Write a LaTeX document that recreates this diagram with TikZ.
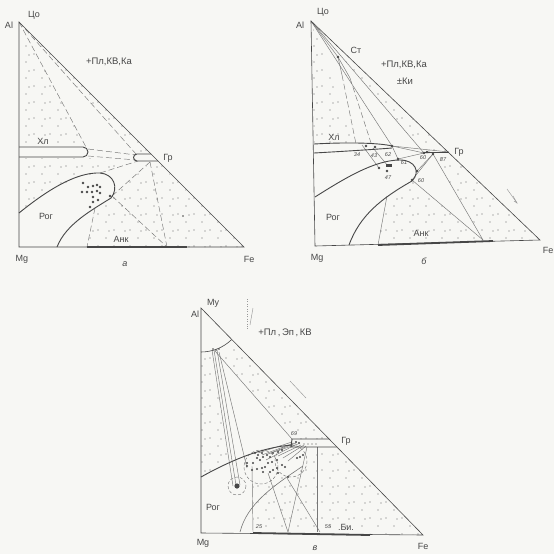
\documentclass[tikz,border=0pt]{standalone}
\usepackage{fontspec}
\setmainfont{Liberation Sans}
\usetikzlibrary{patterns}
\pgfdeclarepatternformonly{stip}{\pgfqpoint{-1pt}{-1pt}}{\pgfqpoint{17pt}{17pt}}{\pgfqpoint{16pt}{16pt}}{%
  \pgfpathcircle{\pgfqpoint{2pt}{4pt}}{0.6pt}%
  \pgfpathcircle{\pgfqpoint{10pt}{12pt}}{0.6pt}%
  \pgfpathcircle{\pgfqpoint{13pt}{3pt}}{0.55pt}%
  \pgfusepath{fill}}
\definecolor{bgc}{HTML}{F7F7F4}
\definecolor{inkc}{HTML}{474747}
\definecolor{thinc}{HTML}{767676}
\tikzset{
  edgeln/.style={draw=inkc, line width=0.6pt},
  boldln/.style={draw=inkc, line width=0.9pt},
  thinln/.style={draw=thinc, line width=0.45pt},
  dsh/.style={draw=thinc, line width=0.45pt, dash pattern=on 6pt off 3pt},
  heavyln/.style={draw=inkc, line width=1.8pt},
  stp/.style={pattern=stip, pattern color=black!60},
  lbl/.style={font=\fontsize{9}{10}\selectfont, text=inkc, inner sep=0pt},
  asstxt/.style={font=\fontsize{9.5}{11}\selectfont, text=inkc, inner sep=0pt},
  num/.style={font=\fontsize{5.5}{6}\selectfont\itshape, text=inkc, inner sep=0pt},
  captxt/.style={font=\fontsize{9}{10}\selectfont\itshape, text=inkc, inner sep=0pt},
  pt/.style={fill=inkc}
}
\begin{document}
\begin{tikzpicture}[x=1pt,y=-1pt]
\useasboundingbox (0,0) rectangle (554,554);
\fill[bgc] (0,0) rectangle (554,554);

% ================= diagram a =================
\coordinate (aAl) at (19,22);
\coordinate (aMg) at (19,247);
\coordinate (aFe) at (244,247);
\coordinate (aXl) at (86,147);
\coordinate (aGr) at (136,154);
\fill[stp] (aAl) -- (aXl) -- (19,147) -- cycle;
\fill[stp] (19,158) -- (90,158) -- (135,162) -- (100,173) -- (60,186) -- (19,213) -- cycle;
\fill[stp] (aAl) -- (aGr) -- (151,154) -- cycle;
\fill[stp] (158,162) -- (aFe) -- (167,247) -- (150,163) -- cycle;
\fill[stp] (112,197) -- (150,163) -- (167,247) -- cycle;
\fill[stp] (95,208) -- (112,197) -- (167,247) -- (87,247) -- cycle;
\draw[dsh] (aAl) -- (aXl);
\draw[dsh] (aAl) -- (aGr);
\draw[dsh] (88,149) -- (136,155);
\draw[dsh] (88,156) -- (136,160);
\draw[dsh] (100,173) -- (138,161);
\draw[dsh] (112,196) -- (150,162);
\draw[dsh] (150,162) -- (167,247);
\draw[dsh] (112,196) -- (167,247);
\draw[dsh] (95,208) -- (87,247);
\draw[edgeln] (aAl) -- (aMg) -- (aFe) -- cycle;
\draw[boldln] (19,147) -- (83,147) arc[start angle=-90,end angle=90,radius=5] -- (19,157);
\draw[boldln] (151,154) -- (137,154) arc[start angle=-90,end angle=-270,radius=3.5] -- (158,161);
\draw[boldln] (19,213) .. controls (45,192) and (75,172) .. (100,173)
  .. controls (114,174) and (119,188) .. (111,198)
  .. controls (92,210) and (66,224) .. (57,247);
\draw[heavyln] (87,247) -- (187,247);
\foreach \x/\y in {83/183,88/187,93/186,97/185,100/187,82/192,87/192,92/192,97/191,100/193,93/197,98/200,93/202,90/207,110/196}
  \fill[pt] (\x,\y) circle (1.3);
\fill[pt] (183,216) circle (0.8);
\node[lbl] (aAlL) at (9,25) {Al};
\node[lbl] (aCoL) at (34,15) {Цо};
\node[lbl] (aMgL) at (22,259) {Mg};
\node[lbl] (aFeL) at (249,259) {Fe};
\node[captxt] (aCap) at (125,264) {а};
\node[asstxt] (aAss) at (109,62) {+Пл,КВ,Ка};
\node[lbl] (aXlL) at (43,141) {Хл};
\node[lbl] (aGrL) at (168,158) {Гр};
\node[lbl] (aRgL) at (46,216) {Рог};
\node[lbl] (aAnL) at (121,239) {Анк};

% ================= diagram б =================
\coordinate (bAl) at (311,21);
\coordinate (bMg) at (315,246);
\coordinate (bFe) at (540,240);
\coordinate (bSt) at (338,57);
\coordinate (b62) at (392,146);
\coordinate (b60) at (424,153);
\coordinate (b87) at (433,154);
\coordinate (b61) at (398,159);
\coordinate (b60l) at (412,180);
\coordinate (bGr) at (449,152);
\coordinate (bAnR) at (483,240);
\coordinate (bAnL) at (378,245);
\fill[stp] (bAl) -- (356,144) -- (314,144) -- cycle;
\fill[stp] (bAl) -- (b60) -- (bGr) -- cycle;
\fill[stp] (b87) -- (bGr) -- (bFe) -- (bAnR) -- cycle;
\fill[stp] (387,195) -- (b60l) -- (bAnR) -- (bAnL) -- cycle;
\draw[thinln] (bAl) -- (bSt);
\draw[thinln] (bSt) -- (342,75);
\draw[dsh] (342,75) -- (356,144);
\draw[thinln] (bSt) -- (350,78);
\draw[dsh] (350,78) -- (372,146);
\draw[thinln] (bAl) -- (b62);
\draw[thinln] (bAl) -- (b60);
\draw[thinln] (b62) -- (b60);
\draw[thinln] (b62) -- (bGr);
\draw[thinln] (b60) -- (bGr);
\draw[thinln] (362,145) -- (379,168);
\draw[thinln] (373,148) -- (388,166);
\draw[thinln] (b62) -- (b61);
\draw[thinln] (b61) -- (b60);
\draw[thinln] (b60l) -- (b87);
\draw[thinln] (417,171) -- (b87);
\draw[thinln] (b87) -- (bAnR);
\draw[thinln] (b60l) -- (bAnR);
\draw[thinln] (387,196) -- (bAnL);
\draw[edgeln] (bAl) -- (bMg) -- (bFe) -- cycle;
\draw[boldln] (314,144) .. controls (350,142) and (380,143) .. (392,146);
\draw[boldln] (314,153) .. controls (350,151) and (380,149) .. (392,148);
\draw[boldln] (424,152) -- (bGr);
\draw[boldln] (315,197) .. controls (345,178) and (375,160) .. (400,160)
  .. controls (415,160) and (421,172) .. (412,181)
  .. controls (382,198) and (360,215) .. (349,245);
\draw[heavyln] (bAnL) -- (493,241);
\foreach \x/\y in {338/57,366/146,375/147,392/146,424/153,427/152,433/154,398/159,379/168,387/171,417/171,412/180}
  \fill[pt] (\x,\y) circle (1.3);
\fill[pt] (386,164) rectangle (392,166.5);
\node[num] (n34) at (357,155) {34};
\node[num] (n43) at (374,156) {43};
\node[num] (n62) at (388,155) {62};
\node[num] (n60a) at (423,158) {60};
\node[num] (n87) at (443,160) {87};
\node[num] (n61) at (404,163) {61};
\node[num] (n47) at (388,178) {47};
\node[num] (n60b) at (421,181) {60};
\node[lbl] (bAlL) at (300,25) {Al};
\node[lbl] (bCoL) at (323,12) {Цо};
\node[lbl] (bMgL) at (317,258) {Mg};
\node[lbl] (bFeL) at (548,250) {Fe};
\node[captxt] (bCap) at (424,261) {б};
\node[lbl] (bStL) at (356,50) {Ст};
\node[asstxt] (bAss) at (404,65) {+Пл,КВ,Ка};
\node[asstxt] (bKi) at (405,81) {±Ки};
\node[lbl] (bXlL) at (334,137) {Хл};
\node[lbl] (bGrL) at (459,152) {Гр};
\node[lbl] (bRgL) at (333,217) {Рог};
\node[lbl] (bAnLb) at (421,233) {Анк};
\draw[thinln, draw=black!40] (507,189) -- (517,203);
\draw[thinln, draw=black!40] (513,196) -- (517,203) -- (514,201);

% ================= diagram в =================
\coordinate (cAl) at (201,308);
\coordinate (cMg) at (201,533);
\coordinate (cFe) at (423,535);
\coordinate (cMu) at (215,351);
\coordinate (c69) at (292,439);
\coordinate (cCi) at (237,486);
\fill[stp] (201,353) -- (212,351) -- (230,465) -- (201,477) -- cycle;
\fill[stp] (218,353) -- (233,343) -- (329,439) -- (c69) -- cycle;
\fill[stp] (317,447) -- (337,447) -- (cFe) -- (317,532) -- cycle;
\fill[stp] (253,482) -- (300,470) -- (317,450) -- (317,532) -- (253,532) -- cycle;
\draw[thinln] (212,350) -- (233,486);
\draw[thinln] (214,350) -- (236,485);
\draw[thinln] (217,350) -- (240,485);
\draw[thinln] (219,352) -- (247,468);
\draw[thinln] (cMu) -- (c69);
\foreach \xa/\ya/\xb/\yb in {258/453/292/442,262/455/294/443,268/454/296/443,274/452/298/444,278/456/301/445,283/458/304/445,288/461/306/446,266/460/295/445}
  \draw[thinln] (\xa,\ya) -- (\xb,\yb);
\draw[thinln] (252,466) -- (253,532);
\draw[thinln] (268,473) -- (288,532);
\draw[thinln] (307,447) -- (288,532);
\draw[thinln] (287,478) -- (320,532);
\draw[thinln] (317,447) -- (317,532);
\draw[dsh, dash pattern=on 3pt off 2pt] (cCi) circle (9);
\draw[dsh, dash pattern=on 3pt off 2pt] (261,467) circle (17);
\draw[dsh, dash pattern=on 3pt off 2pt] (291,461) circle (16);
\draw[edgeln] (cAl) -- (cMg) -- (cFe) -- cycle;
\draw[edgeln] (cAl) ++(90:44) arc[start angle=90,end angle=46,radius=44];
\draw[boldln] (329,439) -- (c69) -- (291,447) -- (337,447);
\draw[boldln] (201,477) .. controls (235,458) and (265,447) .. (292,445);
\draw[thinln, line width=0.6pt] (240,532) .. controls (247,505) and (270,488) .. (303,466);
\draw[heavyln] (253,533) -- (370,535);
\foreach \x/\y in {255/453,258/455,262/453,257/458,260/460,263/457,267/455,270/457,273/453,278/452,282/450,253/463,252/470,257/469,262/468,265/467,268/463,272/462,277/460,247/463,273/470,278/473,282/465,285/467,288/477,297/458,300/457,303/455,247/466,263/472,270/472,277/468,296/442,299/443}
  \fill[pt] (\x,\y) circle (1.2);
\foreach \x/\y in {213/349,216/350,219/349} \fill[pt] (\x,\y) circle (0.9);
\fill[pt] (cCi) circle (2.6);
\foreach \x in {304,308,312,316} \fill[pt] (\x,444) circle (0.7);
\node[lbl] (cAlL) at (195,314) {Al};
\node[lbl] (cMuL) at (213,303) {Mу};
\node[lbl] (cMgL) at (203,543) {Mg};
\node[lbl] (cFeL) at (423,546) {Fe};
\node[captxt] (cCap) at (315,548) {в};
\node[asstxt] (cAss) at (285,333) {+Пл\,,\,Эп\,,\,КВ};
\node[lbl] (cGrL) at (346,441) {Гр};
\node[num] (c69L) at (294,434) {69};
\node[lbl] (cRgL) at (213,507) {Рог};
\node[num] (c25L) at (259,527) {25};
\node[num] (c55L) at (328,527) {55};
\node[lbl] (cBiL) at (346,527) {.Би.};
\draw[thinln, draw=black!40, dotted] (247,299) -- (247,330);
\draw[thinln, draw=black!40] (253,308) -- (250,325);
\draw[thinln, draw=black!40] (290,381) -- (306,398);
\end{tikzpicture}
\end{document}
